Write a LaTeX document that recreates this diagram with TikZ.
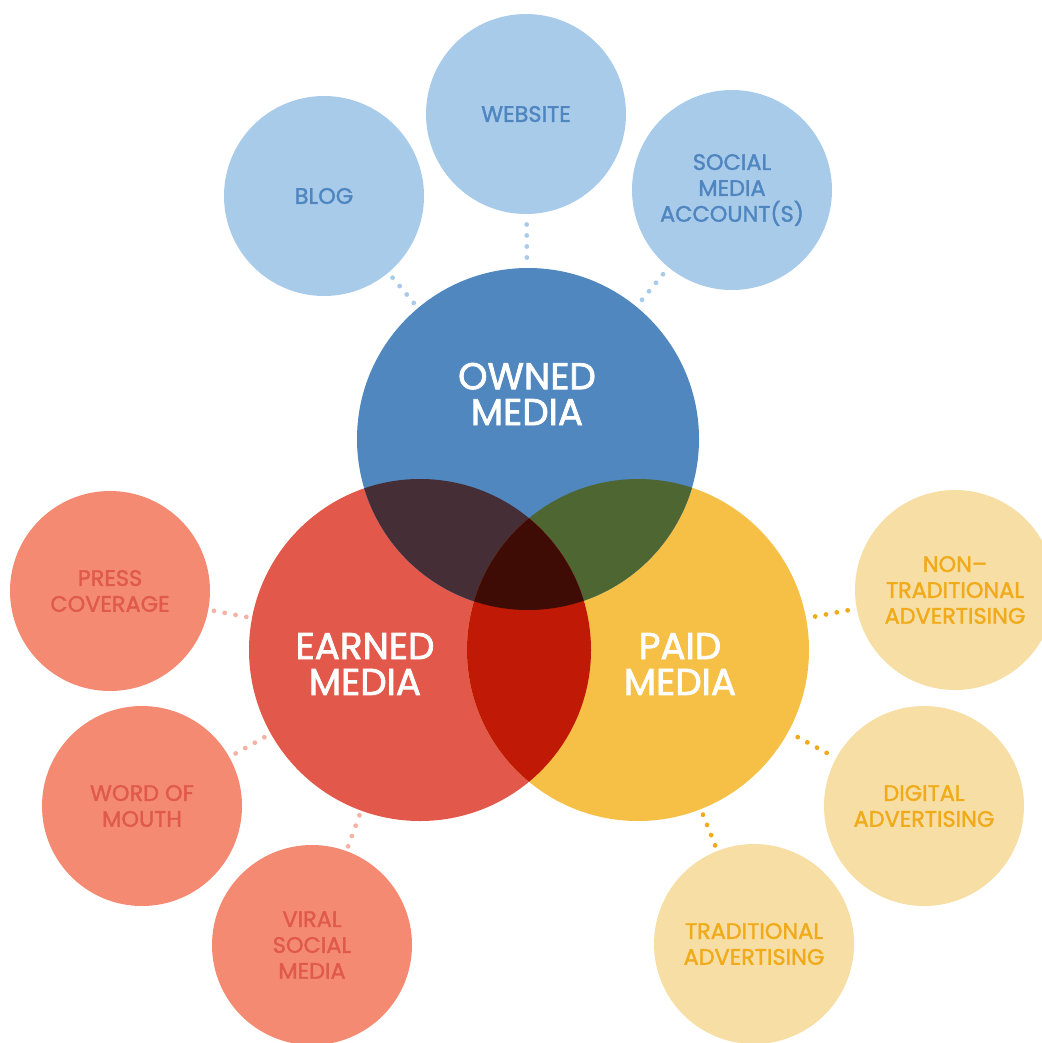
\documentclass[tikz,border=0pt]{standalone}
\usepackage{fontspec}
\setmainfont{Poppins}
\newfontfamily\satfont{Poppins}[FakeBold=1.6]
\newfontfamily\mainlblfont{Poppins}[FakeBold=2.0]
\usetikzlibrary{decorations.markings}

\definecolor{ownedc}{HTML}{5087BF}
\definecolor{earnedc}{HTML}{E2594B}
\definecolor{paidc}{HTML}{F6BF46}
\definecolor{oec}{HTML}{462E36}
\definecolor{opc}{HTML}{4D6632}
\definecolor{epc}{HTML}{C01905}
\definecolor{oepc}{HTML}{3E0C04}
\definecolor{ownedlight}{HTML}{A9CBEA}
\definecolor{ownedtext}{HTML}{4F86C0}
\definecolor{earnedlight}{HTML}{F48A72}
\definecolor{earnedtext}{HTML}{E05A4C}
\definecolor{earneddot}{HTML}{F6B3A5}
\definecolor{paidlight}{HTML}{F6DEA5}
\definecolor{paidtext}{HTML}{F0AA1A}

\begin{document}
\begin{tikzpicture}[x=1bp,y=-1bp,
  bigcircle/.style={circle,minimum size=342bp,inner sep=0pt,draw=none},
  bigtext/.style={text=white,align=center,font=\mainlblfont\fontsize{37.5}{36}\selectfont,inner sep=0pt},
  sat/.style={circle,minimum size=200bp,inner sep=0pt,draw=none,align=center,
    font=\satfont\fontsize{22.5}{26}\selectfont},
  ownsat/.style={sat,fill=ownedlight,text=ownedtext},
  earnsat/.style={sat,fill=earnedlight,text=earnedtext},
  paidsat/.style={sat,fill=paidlight,text=paidtext},
  dotlink/.style={draw=none,postaction={decorate},
    decoration={markings,mark=at position 0.5 with {
      \foreach \d in {-16.5,-5.5,5.5,16.5}{\fill[#1] (\d bp,0) circle (2.4bp);}}}}
]
\useasboundingbox (0,0) rectangle (1042,1043);

% main circles
\node[bigcircle,fill=earnedc] (earned) at (420,650) {};
\node[bigcircle,fill=paidc]   (paid)   at (638,650) {};
\node[bigcircle,fill=ownedc]  (owned)  at (528,439) {};

% overlaps
\begin{scope}
  \clip (528,439) circle (171);
  \fill[oec] (420,650) circle (171);
  \fill[opc] (638,650) circle (171);
\end{scope}
\begin{scope}
  \clip (420,650) circle (171);
  \fill[epc] (638,650) circle (171);
\end{scope}
\begin{scope}
  \clip (528,439) circle (171);
  \clip (420,650) circle (171);
  \fill[oepc] (638,650) circle (171);
\end{scope}

% main labels
\node[bigtext] (ownedlbl)  at (527,394) {OWNED\\MEDIA};
\node[bigtext] (earnedlbl) at (365,664) {EARNED\\MEDIA};
\node[bigtext] (paidlbl)   at (680,664) {PAID\\MEDIA};

% owned media channels
\node[ownsat] (blog)    at (324,196) {BLOG};
\node[ownsat] (website) at (526,114) {WEBSITE};
\node[ownsat] (social)  at (732,190) {SOCIAL\\MEDIA\\ACCOUNT(S)};

% earned media channels
\node[earnsat] (press) at (110,591) {PRESS\\COVERAGE};
\node[earnsat] (word)  at (142,806) {WORD OF\\MOUTH};
\node[earnsat] (viral) at (312,945) {VIRAL\\SOCIAL\\MEDIA};

% paid media channels
\node[paidsat] (nontrad) at (955,590) {NON–\\TRADITIONAL\\ADVERTISING};
\node[paidsat] (digital) at (924,806) {DIGITAL\\ADVERTISING};
\node[paidsat] (trad)    at (754,944) {TRADITIONAL\\ADVERTISING};

% dotted links
\path[dotlink=ownedlight] (blog) -- (owned);
\path[dotlink=ownedlight] (website) -- (owned);
\path[dotlink=ownedlight] (social) -- (owned);
\path[dotlink=earneddot] (press) -- (earned);
\path[dotlink=earneddot] (word) -- (earned);
\path[dotlink=earneddot] (viral) -- (earned);
\path[dotlink=paidtext] (nontrad) -- (paid);
\path[dotlink=paidtext] (digital) -- (paid);
\path[dotlink=paidtext] (trad) -- (paid);
\end{tikzpicture}
\end{document}
